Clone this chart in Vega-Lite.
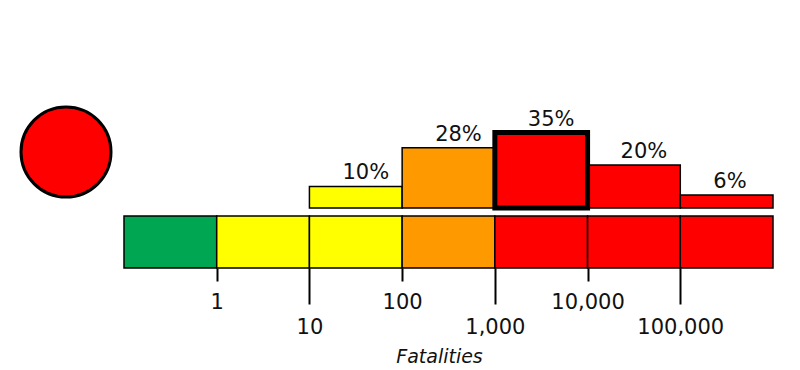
{
  "$schema": "https://vega.github.io/schema/vega-lite/v6.json",
  "padding": {"left": 15, "top": 96, "right": 0, "bottom": 0},
  "background": "white",
  "spacing": 8,
  "bounds": "flush",
  "config": {"view": {"stroke": null}, "font": "DejaVu Sans"},
  "datasets": {
    "scale": [
      {"lo": 0.1, "hi": 1, "alert": "green"},
      {"lo": 1, "hi": 10, "alert": "yellow"},
      {"lo": 10, "hi": 100, "alert": "yellow"},
      {"lo": 100, "hi": 1000, "alert": "orange"},
      {"lo": 1000, "hi": 10000, "alert": "red"},
      {"lo": 10000, "hi": 100000, "alert": "red"},
      {"lo": 100000, "hi": 1000000, "alert": "red"}
    ],
    "hist": [
      {"lo": 10, "hi": 100, "prob": 0.10, "alert": "yellow", "best": false},
      {"lo": 100, "hi": 1000, "prob": 0.28, "alert": "orange", "best": false},
      {"lo": 10000, "hi": 100000, "prob": 0.20, "alert": "red", "best": false},
      {"lo": 100000, "hi": 1000000, "prob": 0.06, "alert": "red", "best": false},
      {"lo": 1000, "hi": 10000, "prob": 0.35, "alert": "red", "best": true}
    ]
  },
  "hconcat": [
    {
      "width": 100,
      "height": 112,
      "data": {"values": [{"alert": "red"}]},
      "mark": {"type": "point", "shape": "circle", "filled": true, "size": 8100, "stroke": "black", "strokeWidth": 3, "opacity": 1},
      "encoding": {
        "color": {"field": "alert", "type": "nominal", "scale": {"domain": ["green", "yellow", "orange", "red"], "range": ["#00A651", "#FFFF00", "#FF9900", "#FF0000"]}, "legend": null}
      }
    },
    {
      "vconcat": [
        {
          "width": 649,
          "height": 112,
          "data": {"name": "hist"},
          "layer": [
            {
              "mark": {"type": "rect", "stroke": "black"},
              "encoding": {
                "x": {"field": "lo", "type": "quantitative", "scale": {"type": "log", "domain": [0.1, 1000000], "nice": false}, "axis": null},
                "x2": {"field": "hi"},
                "y": {"field": "prob", "type": "quantitative", "scale": {"domain": [0, 0.52], "nice": false, "zero": true}, "axis": null},
                "y2": {"datum": 0},
                "color": {"field": "alert", "type": "nominal", "scale": {"domain": ["green", "yellow", "orange", "red"], "range": ["#00A651", "#FFFF00", "#FF9900", "#FF0000"]}, "legend": null},
                "strokeWidth": {"condition": {"test": "datum.best", "value": 5}, "value": 1.5}
              }
            },
            {
              "mark": {"type": "text", "align": "left", "baseline": "alphabetic", "dx": 33, "dy": -7, "fontSize": 21, "color": "#111111"},
              "encoding": {
                "x": {"field": "lo", "type": "quantitative"},
                "y": {"field": "prob", "type": "quantitative"},
                "text": {"field": "prob", "type": "quantitative", "format": ".0%"}
              }
            }
          ]
        },
        {
          "width": 649,
          "height": 52,
          "data": {"name": "scale"},
          "mark": {"type": "rect", "stroke": "black", "strokeWidth": 1.5},
          "encoding": {
            "x": {
              "field": "lo",
              "type": "quantitative",
              "scale": {"type": "log", "domain": [0.1, 1000000], "nice": false},
              "axis": {
                "values": [1, 10, 100, 1000, 10000, 100000],
                "format": ",",
                "title": "Fatalities",
                "domain": false,
                "grid": false,
                "ticks": true,
                "tickColor": "black",
                "tickWidth": 2,
                "tickSize": {"condition": {"test": "datum.value == 10 || datum.value == 1000 || datum.value == 100000", "value": 36}, "value": 13},
                "labelPadding": {"condition": {"test": "datum.value == 10 || datum.value == 1000 || datum.value == 100000", "value": 12}, "value": 10},
                "labelFontSize": 21,
                "labelColor": "#111111",
                "labelOverlap": false,
                "labelFlush": false,
                "labelBound": false,
                "titleFontSize": 19,
                "titleFontStyle": "italic",
                "titleFontWeight": "normal",
                "titleColor": "#111111",
                "titlePadding": 10,
                "titleX": 315
              }
            },
            "x2": {"field": "hi"},
            "color": {"field": "alert", "type": "nominal", "scale": {"domain": ["green", "yellow", "orange", "red"], "range": ["#00A651", "#FFFF00", "#FF9900", "#FF0000"]}, "legend": null}
          }
        }
      ],
      "spacing": 8,
      "bounds": "flush"
    }
  ]
}
